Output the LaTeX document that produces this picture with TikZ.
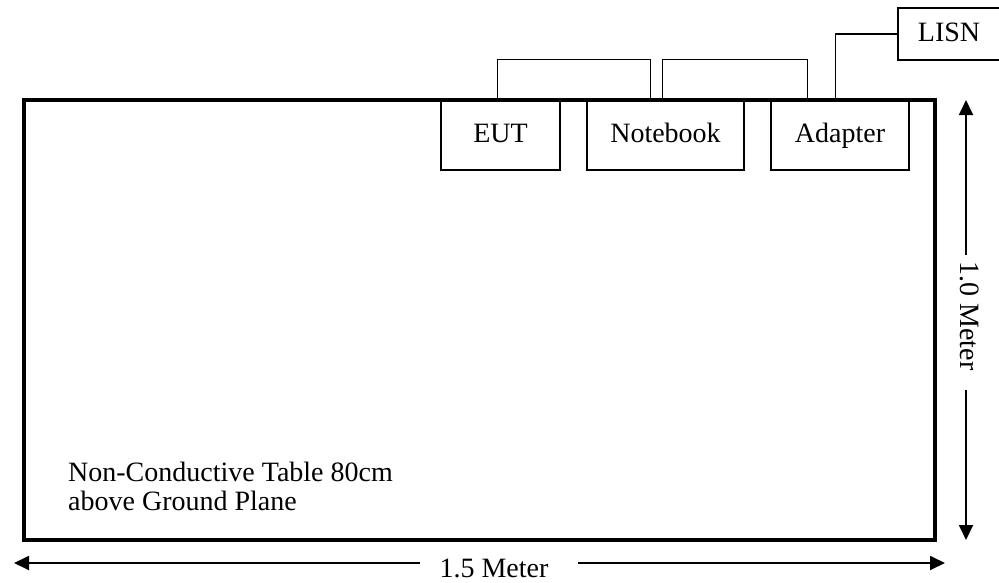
\documentclass[tikz,border=0pt]{standalone}
\usepackage{fontspec}
\setmainfont{Liberation Serif}
\usetikzlibrary{arrows.meta,calc}
\begin{document}
\begin{tikzpicture}[x=1pt,y=-1pt,
  box/.style={draw,line width=1.3pt,inner sep=0pt,text height=18.5pt,text depth=4pt,font=\fontsize{28}{29}\selectfont},
  tbl/.style={draw,line width=4pt,inner sep=0pt},
  cable/.style={line width=1.3pt},
  dim/.style={line width=1.8pt,-{Triangle[length=15pt,width=14pt]}},
  lab/.style={font=\fontsize{28}{29}\selectfont,inner sep=0pt}]
\useasboundingbox (0,0) rectangle (999,582);
\node[tbl,minimum width=911,minimum height=440] (table) at (479.5,320) {};
\node[box,minimum width=119,minimum height=70] (eut) at (500.5,135) {EUT};
\node[box,minimum width=157,minimum height=70] (nb) at (665.5,135) {Notebook};
\node[box,minimum width=138,minimum height=70] (ad) at (840,135) {Adapter};
\node[box,minimum width=102,minimum height=52] (lisn) at (949,34) {LISN};
\draw[cable] ($(eut.north west)+(57,0)$) -- ++(0,-40) -| ($(nb.north west)+(64,0)$);
\draw[cable] ($(nb.north west)+(76,0)$) -- ++(0,-40) -| ($(ad.north west)+(37,0)$);
\draw[cable] ($(ad.north west)+(65,0)$) |- (lisn.west);
\node[lab,align=left,anchor=base west] (note) at (68,510) {Non-Conductive Table 80cm\\above Ground Plane};
% vertical dimension
\node[lab,rotate=-90] (vlab) at (970,316) {1.0 Meter};
\coordinate (vtop) at (966,100);
\coordinate (vbot) at (966,540);
\draw[dim] (966,255) -- (vtop);
\draw[dim] (966,390) -- (vbot);
% horizontal dimension
\node[lab,anchor=base] (hlab) at (494,577) {1.5 Meter};
\coordinate (hl) at (14,563);
\coordinate (hr) at (945,563);
\draw[dim] (420,563) -- (hl);
\draw[dim] (578,563) -- (hr);
\end{tikzpicture}
\end{document}
